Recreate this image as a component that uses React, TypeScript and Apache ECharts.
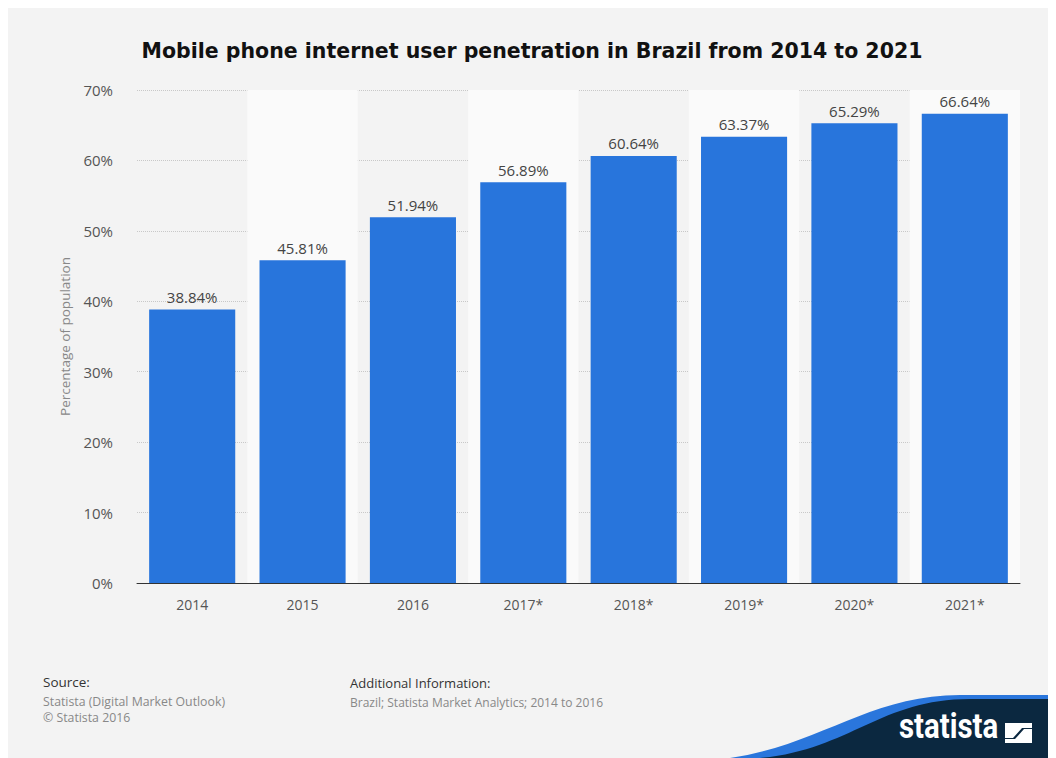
import React, { useEffect, useRef } from "react";
import * as echarts from "echarts";

const categories = ["2014", "2015", "2016", "2017*", "2018*", "2019*", "2020*", "2021*"];
const values = [38.84, 45.81, 51.94, 56.89, 60.64, 63.37, 65.29, 66.64];
const yTicks = [0, 10, 20, 30, 40, 50, 60, 70];

const TITLE = "Mobile phone internet user penetration in Brazil from 2014 to 2021";
const Y_NAME = "Percentage of population";

echarts.graphic.registerShape(
  "swooshBlue",
  echarts.graphic.extendPath(
    "M 722 750 C 812 737, 862 687, 952 687 L 1048 687 L 1048 750 Z",
    {}
  )
);
echarts.graphic.registerShape(
  "swooshDark",
  echarts.graphic.extendPath(
    "M 752 750 C 842 742, 872 691, 962 691 L 1048 691 L 1048 750 Z",
    {}
  )
);

export default function App() {
  const ref = useRef<HTMLDivElement>(null);
  useEffect(() => {
    if (!ref.current) return;
    const chart = echarts.init(ref.current, undefined, { renderer: "svg" });
    const font = "'Open Sans', 'Noto Sans', sans-serif";
    chart.setOption({
      animation: false,
      backgroundColor: "#f3f3f3",
      title: {
        text: TITLE,
        left: "center",
        top: 27,
        textStyle: {
          fontFamily: "'DejaVu Sans', sans-serif",
          fontWeight: "bold",
          fontSize: 20.5,
          color: "#111",
        },
      },
      grid: { left: 129, right: 36, top: 82, bottom: 175, containLabel: false },
      xAxis: {
        type: "category",
        data: categories,
        axisLine: { lineStyle: { color: "#333", width: 1 } },
        axisTick: { show: false },
        axisLabel: { color: "#555", fontSize: 14, fontFamily: font, margin: 14 },
        splitArea: { show: true, areaStyle: { color: ["rgba(0,0,0,0)", "#fafafa"] } },
      },
      yAxis: {
        type: "value",
        min: 0,
        max: 70,
        interval: 10,
        name: Y_NAME,
        nameLocation: "middle",
        nameGap: 65,
        nameTextStyle: { color: "#888", fontSize: 13.5, fontFamily: font },
        axisLine: { show: false },
        axisTick: { show: false },
        axisLabel: {
          color: "#555",
          fontSize: 15,
          fontFamily: font,
          margin: 24,
          formatter: (v: number) => (yTicks.includes(v) ? v + "%" : ""),
        },
        splitLine: { lineStyle: { color: "#c8c8c8", type: [1, 1], width: 1 } },
      },
      series: [
        {
          type: "bar",
          data: values,
          barCategoryGap: "22%",
          itemStyle: { color: "#2875dc" },
          label: {
            show: true,
            position: "top",
            distance: 5,
            color: "#444",
            fontSize: 15,
            fontFamily: font,
            formatter: (p: any) => p.value.toFixed(2) + "%",
          },
          z: 3,
        },
      ],
      graphic: [
        {
          type: "text",
          left: 35,
          top: 667,
          style: { text: "Source:", fill: "#333", font: "13.5px 'Open Sans', 'Noto Sans', sans-serif" },
        },
        {
          type: "text",
          left: 35,
          top: 685,
          style: {
            text: "Statista (Digital Market Outlook)\n© Statista 2016",
            fill: "#888",
            lineHeight: 16,
            font: "12.3px 'Open Sans', 'Noto Sans', sans-serif",
          },
        },
        {
          type: "text",
          left: 342,
          top: 668,
          style: { text: "Additional Information:", fill: "#333", font: "13px 'Open Sans', 'Noto Sans', sans-serif" },
        },
        {
          type: "text",
          left: 342,
          top: 688,
          style: {
            text: "Brazil; Statista Market Analytics; 2014 to 2016",
            fill: "#888",
            font: "12px 'Open Sans', 'Noto Sans', sans-serif",
          },
        },
        { type: "swooshBlue", style: { fill: "#2a76dc" } },
        { type: "swooshDark", style: { fill: "#0b2840" } },
        {
          type: "text",
          x: 891,
          y: 701,
          scaleX: 0.84,
          style: {
            text: "statista",
            fill: "#ffffff",
            font: "bold 35px Roboto, sans-serif",
          },
        },
        {
          type: "polygon",
          x: 997,
          y: 715,
          shape: { points: [[0, 0], [27, 0], [27, 5], [17, 5], [8, 15], [0, 15]] },
          style: { fill: "#ffffff" },
        },
        {
          type: "polygon",
          x: 997,
          y: 715,
          shape: { points: [[27, 20], [0, 20], [0, 16], [10, 16], [19, 6], [27, 6]] },
          style: { fill: "#ffffff" },
        },
      ],
    });
    return () => chart.dispose();
  }, []);
  return <div ref={ref} style={{ width: 1048, height: 750 }} />;
}
